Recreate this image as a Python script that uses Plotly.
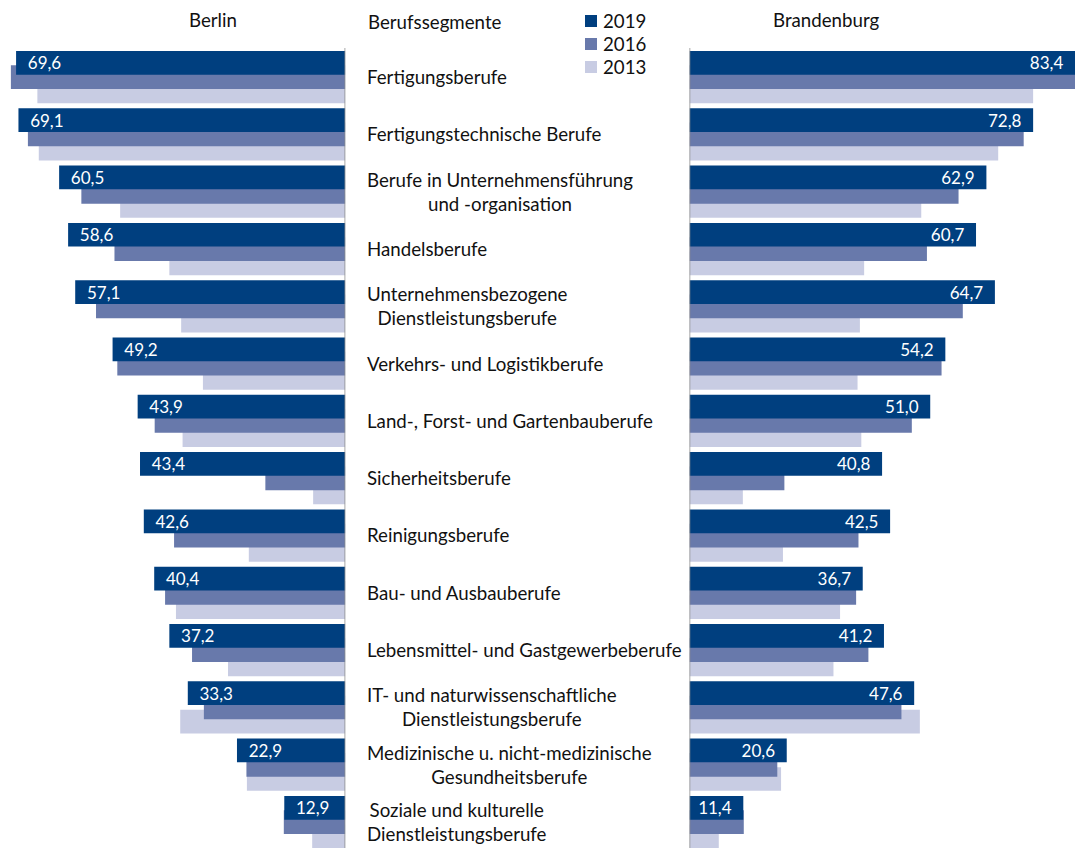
import plotly.graph_objects as go

# ---------------- data ----------------
categories = [
    "Fertigungsberufe",
    "Fertigungstechnische Berufe",
    "Berufe in Unternehmensführung<br>und -organisation",
    "Handelsberufe",
    "Unternehmensbezogene<br>Dienstleistungsberufe",
    "Verkehrs- und Logistikberufe",
    "Land-, Forst- und Gartenbauberufe",
    "Sicherheitsberufe",
    "Reinigungsberufe",
    "Bau- und Ausbauberufe",
    "Lebensmittel- und Gastgewerbeberufe",
    "IT- und naturwissenschaftliche<br>Dienstleistungsberufe",
    "Medizinische u. nicht-medizinische<br>Gesundheitsberufe",
    "Soziale und kulturelle<br>Dienstleistungsberufe",
]
years = ["2019", "2016", "2013"]

berlin_2019 = [69.6, 69.1, 60.5, 58.6, 57.1, 49.2, 43.9, 43.4, 42.6, 40.4, 37.2, 33.3, 22.9, 12.9]
berlin_2016 = [70.7, 67.1, 55.8, 48.8, 52.7, 48.2, 40.3, 16.9, 36.2, 38.1, 32.4, 29.9, 20.9, 13.0]
berlin_2013 = [65.1, 64.8, 47.6, 37.2, 34.7, 30.1, 34.4, 6.8, 20.4, 35.8, 24.8, 34.9, 20.8, 7.0]

brandenburg_2019 = [83.4, 72.8, 62.9, 60.7, 64.7, 54.2, 51.0, 40.8, 42.5, 36.7, 41.2, 47.6, 20.6, 11.4]
brandenburg_2016 = [84.5, 70.8, 57.0, 50.3, 57.9, 53.4, 47.1, 20.1, 35.8, 35.3, 37.9, 44.9, 18.6, 11.5]
brandenburg_2013 = [72.8, 65.4, 49.1, 37.0, 36.1, 35.6, 36.4, 11.3, 19.8, 31.9, 30.5, 48.8, 19.4, 6.2]

# ---------------- styling ----------------
W, H = 1075, 848
FONT = "Lato"
LBL = 18.7
colors = {"2019": "#003F7F", "2016": "#6879AB", "2013": "#C8CCE3"}
bar_w = 0.414
offsets = {"2019": -0.454, "2016": -0.204, "2013": 0.044}

BERLIN_MAX = 73.0
BB_MAX = 81.67


def fmt(v):
    return f"{v:.1f}".replace(".", ",")


ypos = list(range(len(categories)))
fig = go.Figure()

berlin = {"2019": berlin_2019, "2016": berlin_2016, "2013": berlin_2013}
bb = {"2019": brandenburg_2019, "2016": brandenburg_2016, "2013": brandenburg_2013}
NB = "\u00a0\u00a0"

for yr in ["2013", "2016", "2019"]:
    vals = berlin[yr]
    fig.add_trace(go.Bar(
        x=[min(v, BERLIN_MAX) for v in vals], y=ypos, orientation="h",
        name=yr, showlegend=False,
        marker=dict(color=colors[yr], line=dict(width=0)),
        width=bar_w, offset=offsets[yr],
        text=[NB + fmt(v) for v in vals] if yr == "2019" else None,
        textposition="inside" if yr == "2019" else "none",
        insidetextanchor="end", textangle=0, constraintext="none",
        insidetextfont=dict(color="white", size=17, family=FONT),
        xaxis="x", yaxis="y", hoverinfo="skip",
    ))
for yr in ["2013", "2016", "2019"]:
    vals = bb[yr]
    fig.add_trace(go.Bar(
        x=[min(v, BB_MAX) for v in vals], y=ypos, orientation="h",
        name=yr, showlegend=False,
        marker=dict(color=colors[yr], line=dict(width=0)),
        width=bar_w, offset=offsets[yr],
        text=[fmt(v) + NB for v in vals] if yr == "2019" else None,
        textposition="inside" if yr == "2019" else "none",
        insidetextanchor="end", textangle=0, constraintext="none",
        insidetextfont=dict(color="white", size=17, family=FONT),
        xaxis="x2", yaxis="y2", hoverinfo="skip",
    ))

yrange = [13.455, -1.344]
left_dom = [0, 345.3 / W]
right_dom = [689.5 / W, 1]

annotations = []
for i, c in enumerate(categories):
    annotations.append(dict(
        text=c, x=365 / W, xref="paper", y=i, yref="y",
        xanchor="left", yanchor="middle", align="center", showarrow=False,
        font=dict(size=LBL, family=FONT, color="#111111"),
    ))
annotations += [
    dict(text="Berlin", x=213 / W, y=1 - 20 / H, xref="paper", yref="paper",
         xanchor="center", yanchor="middle", showarrow=False,
         font=dict(size=LBL, family=FONT, color="#111111")),
    dict(text="Brandenburg", x=826 / W, y=1 - 20 / H, xref="paper", yref="paper",
         xanchor="center", yanchor="middle", showarrow=False,
         font=dict(size=LBL, family=FONT, color="#111111")),
    dict(text="Berufssegmente", x=366 / W, y=1 - 22 / H, xref="paper", yref="paper",
         xanchor="left", yanchor="middle", showarrow=False,
         font=dict(size=LBL, family=FONT, color="#111111")),
]

shapes = [
    dict(type="line", xref="x", yref="paper", x0=0, x1=0, y0=0, y1=1 - 48 / H,
         line=dict(color="#8C8C8C", width=1.5)),
    dict(type="line", xref="x2", yref="paper", x0=0, x1=0, y0=0, y1=1 - 48 / H,
         line=dict(color="#8C8C8C", width=1.5)),
]

# manual legend (swatches + real text)
for k, yr in enumerate(years):
    yc = 21 + 23 * k
    shapes.append(dict(type="rect", xref="paper", yref="paper",
                       x0=585 / W, x1=597 / W, y0=1 - (yc + 6) / H, y1=1 - (yc - 6) / H,
                       fillcolor=colors[yr], line=dict(width=0)))
    annotations.append(dict(text=yr, x=601 / W, y=1 - yc / H, xref="paper", yref="paper",
                            xanchor="left", yanchor="middle", showarrow=False,
                            font=dict(size=LBL, family=FONT, color="#111111")))

fig.update_layout(
    width=W, height=H,
    margin=dict(l=0, r=0, t=0, b=0),
    paper_bgcolor="white", plot_bgcolor="white",
    barmode="overlay",
    font=dict(family=FONT, size=17, color="#111111"),
    xaxis=dict(domain=left_dom, range=[BERLIN_MAX, 0], visible=False, fixedrange=True),
    xaxis2=dict(domain=right_dom, range=[0, BB_MAX], visible=False, fixedrange=True),
    yaxis=dict(range=yrange, visible=False, anchor="x", fixedrange=True),
    yaxis2=dict(range=yrange, visible=False, anchor="x2", fixedrange=True),
    showlegend=False,
    hovermode=False,
    annotations=annotations,
    shapes=shapes,
    uniformtext=dict(mode="show", minsize=17),
)

fig.write_html(
    "out.html",
    config={"displayModeBar": False},
    post_script="document.body.style.margin='0';document.body.style.overflow='hidden';",
)
